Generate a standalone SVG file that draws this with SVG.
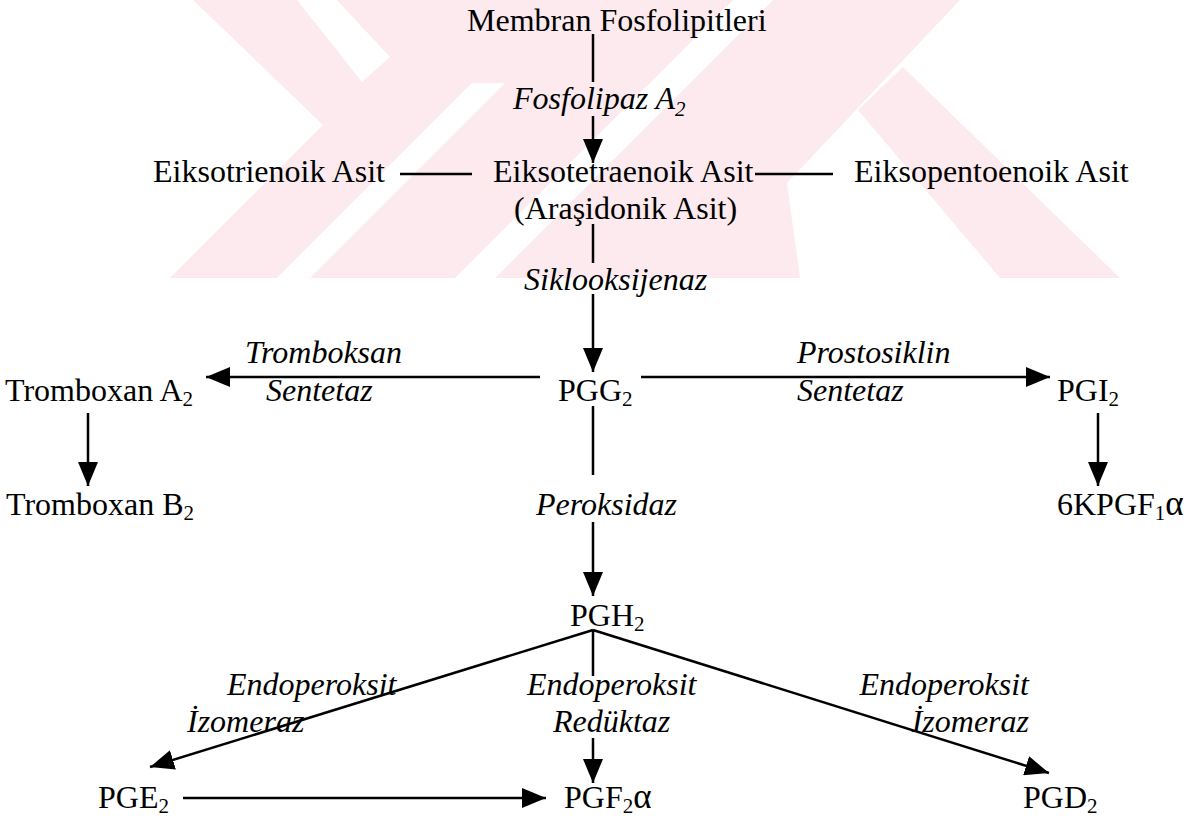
<svg xmlns="http://www.w3.org/2000/svg" width="1194" height="816" viewBox="0 0 1194 816">
<style>
text{font-family:"Liberation Serif","Times New Roman",serif;font-size:32px;fill:#000}
.i{font-style:italic}
.sub{font-size:21px}
.al{font-size:35px}
.c{stroke:#000;stroke-width:2.5;fill:none}
.wm{fill:#fdeaee}
.wh{fill:#fff}
</style>
<defs>
<marker id="ah" markerUnits="userSpaceOnUse" markerWidth="24" markerHeight="20" refX="24" refY="10" orient="auto">
<path d="M0,0 L24,10 L0,20 z" fill="#000"/>
</marker>
</defs>
<rect width="1194" height="816" fill="#fff"/>
<g id="watermark">
<polygon class="wm" points="193,0 960,0 787,183 800,278 170,278 323,125"/>
<polygon class="wm" points="903,67 1120,278 1000,278 858,110"/>
<polygon class="wh" points="297,0 337,0 390,57 362,82"/>
<polygon class="wh" points="733,0 773,0 495,278 455,278"/>
<polygon class="wh" points="277,278 310,278 505,83 472,83"/>
</g>
<g id="connectors">
<line class="c" x1="593" y1="34" x2="593" y2="82"/>
<line class="c" x1="593" y1="116" x2="593" y2="163" marker-end="url(#ah)"/>
<line class="c" x1="400" y1="174" x2="472" y2="174"/>
<line class="c" x1="755" y1="174" x2="833" y2="174"/>
<line class="c" x1="593" y1="224" x2="593" y2="263"/>
<line class="c" x1="593" y1="294" x2="593" y2="372" marker-end="url(#ah)"/>
<line class="c" x1="540" y1="377" x2="206" y2="377" marker-end="url(#ah)"/>
<line class="c" x1="641" y1="377" x2="1050" y2="377" marker-end="url(#ah)"/>
<line class="c" x1="88" y1="413" x2="88" y2="486" marker-end="url(#ah)"/>
<line class="c" x1="1098" y1="413" x2="1098" y2="486" marker-end="url(#ah)"/>
<line class="c" x1="593" y1="406" x2="593" y2="475"/>
<line class="c" x1="593" y1="522" x2="593" y2="596" marker-end="url(#ah)"/>
<line class="c" x1="593" y1="630" x2="593" y2="676"/>
<line class="c" x1="593" y1="738" x2="593" y2="783" marker-end="url(#ah)"/>
<line class="c" x1="593" y1="630" x2="150" y2="767" marker-end="url(#ah)"/>
<line class="c" x1="593" y1="630" x2="1049" y2="773" marker-end="url(#ah)"/>
<line class="c" x1="183" y1="798" x2="546" y2="798" marker-end="url(#ah)"/>
</g>
<g id="n-membran"><text x="467" y="31">Membran Fosfolipitleri</text></g>
<g id="l-fosfolipaz"><text class="i" x="513" y="109">Fosfolipaz A<tspan class="sub" dy="7">2</tspan></text></g>
<g id="n-eiksotrienoik"><text x="153" y="182">Eiksotrienoik Asit</text></g>
<g id="n-eiksotetraenoik"><text x="493" y="182">Eiksotetraenoik Asit</text><text x="514" y="219">(Araşidonik Asit)</text></g>
<g id="n-eiksopentoenoik"><text x="854" y="182">Eiksopentoenoik Asit</text></g>
<g id="l-siklooksijenaz"><text class="i" x="524" y="290">Siklooksijenaz</text></g>
<g id="l-tromboksan"><text class="i" x="245" y="363">Tromboksan</text><text class="i" x="266" y="401">Sentetaz</text></g>
<g id="l-prostosiklin"><text class="i" x="797" y="363">Prostosiklin</text><text class="i" x="797" y="401">Sentetaz</text></g>
<g id="n-txa2"><text x="5" y="401">Tromboxan A<tspan class="sub" dy="5">2</tspan></text></g>
<g id="n-pgg2"><text x="558" y="401">PGG<tspan class="sub" dy="5">2</tspan></text></g>
<g id="n-pgi2"><text x="1057" y="401">PGI<tspan class="sub" dy="5">2</tspan></text></g>
<g id="n-txb2"><text x="6" y="515">Tromboxan B<tspan class="sub" dy="5">2</tspan></text></g>
<g id="l-peroksidaz"><text class="i" x="536" y="515">Peroksidaz</text></g>
<g id="n-6kpgf"><text x="1057" y="515">6KPGF<tspan class="sub" dy="5">1</tspan><tspan class="al" dy="-5">α</tspan></text></g>
<g id="n-pgh2"><text x="570" y="626">PGH<tspan class="sub" dy="5">2</tspan></text></g>
<g id="l-izomeraz1"><text class="i" x="227" y="695">Endoperoksit</text><text class="i" x="187" y="732">İzomeraz</text></g>
<g id="l-reduktaz"><text class="i" x="527" y="695">Endoperoksit</text><text class="i" x="553" y="732">Redüktaz</text></g>
<g id="l-izomeraz2"><text class="i" x="1029" y="695" text-anchor="end">Endoperoksit</text><text class="i" x="1029" y="732" text-anchor="end">İzomeraz</text></g>
<g id="n-pge2"><text x="98" y="808">PGE<tspan class="sub" dy="5">2</tspan></text></g>
<g id="n-pgf2a"><text x="564" y="808">PGF<tspan class="sub" dy="5">2</tspan><tspan class="al" dy="-5">α</tspan></text></g>
<g id="n-pgd2"><text x="1023" y="808">PGD<tspan class="sub" dy="5">2</tspan></text></g>
</svg>
